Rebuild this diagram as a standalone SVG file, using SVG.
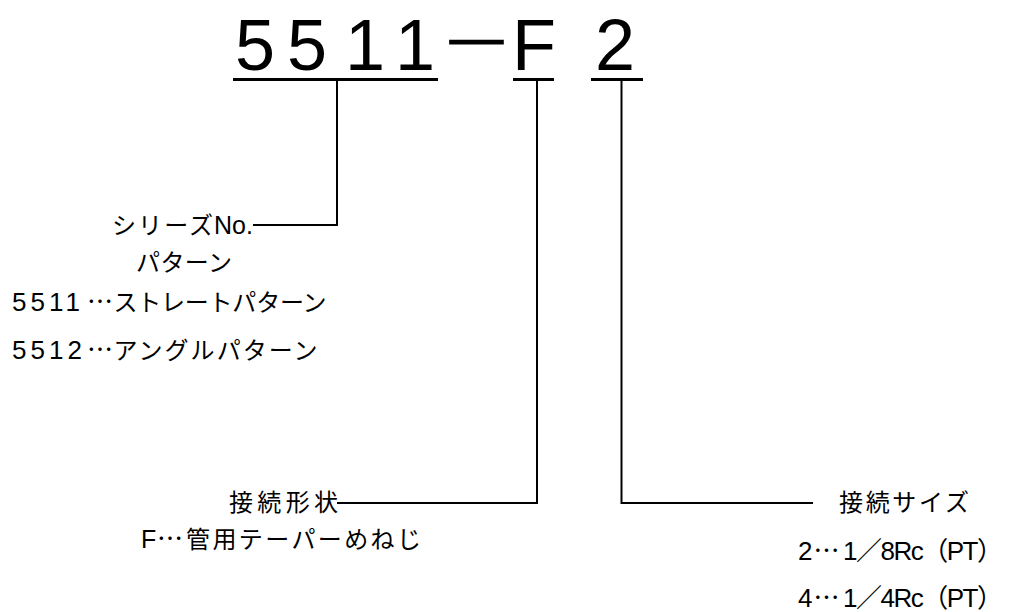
<svg xmlns="http://www.w3.org/2000/svg" width="1011" height="612" viewBox="0 0 1011 612" xml:lang="ja">
<style>
.t{font-family:"Liberation Sans","Noto Sans CJK JP",sans-serif;font-size:26px;fill:#000}
.big{font-family:"Liberation Sans","Noto Sans CJK JP",sans-serif;font-size:72px;fill:#000}
.cj{font-family:"Noto Sans CJK JP",sans-serif}
.el{font-family:"Noto Sans CJK JP",sans-serif;font-size:26px;fill:#000}
.jp{font-family:"Noto Sans CJK JP",sans-serif;font-size:24px;fill:#000}
.dash{font-family:"Noto Sans CJK JP",sans-serif;font-size:52px;fill:#000;stroke:#000;stroke-width:1.2}
.ul{stroke:#000;stroke-width:3;fill:none}
.ln{stroke:#000;stroke-width:2;fill:none}
</style>
<rect width="1011" height="612" fill="#fff"/>
<g id="code">
<text class="big" y="70"><tspan x="235 287 345 395">5511</tspan></text>
<text class="dash" x="440" y="62" textLength="73" lengthAdjust="spacingAndGlyphs">－</text>
<text class="big" y="70"><tspan x="512">F</tspan><tspan x="595">2</tspan></text>
<line class="ul" x1="233" y1="79.5" x2="438" y2="79.5"/>
<line class="ul" x1="513" y1="79.5" x2="554" y2="79.5"/>
<line class="ul" x1="591" y1="79.5" x2="643" y2="79.5"/>
</g>
<g id="connectors">
<polyline class="ln" points="337,80 337,225 253,225"/>
<polyline class="ln" points="537,80 537,503 337,503"/>
<polyline class="ln" points="621.5,80 621.5,503 813,503"/>
</g>
<g id="series">
<text class="jp" x="112" y="234" textLength="101" lengthAdjust="spacing">シリーズ</text>
<text class="t" x="214" y="234" style="font-size:25px">No.</text>
<text class="jp" x="136" y="271" textLength="96" lengthAdjust="spacing">パターン</text>
<text class="t" x="12" y="311" style="letter-spacing:4px">5511</text>
<text class="el" x="87" y="311">…</text>
<text class="jp" x="113.5" y="311" textLength="213" lengthAdjust="spacing">ストレートパターン</text>
<text class="t" x="12" y="359" style="letter-spacing:4px">5512</text>
<text class="el" x="87" y="359">…</text>
<text class="jp" x="113.5" y="359" textLength="204" lengthAdjust="spacing">アングルパターン</text>
</g>
<g id="shape">
<text class="jp" x="229" y="511" textLength="109" lengthAdjust="spacing">接続形状</text>
<text class="t" x="141" y="548" style="font-size:25px">F</text>
<text class="el" x="157" y="548">…</text>
<text class="jp" x="186" y="548" textLength="235" lengthAdjust="spacing">管用テーパーめねじ</text>
</g>
<g id="size">
<text class="jp" x="839" y="511" textLength="130" lengthAdjust="spacing">接続サイズ</text>
<text class="t" x="798" y="560">2</text>
<text class="el" x="813.5" y="560">…</text>
<text class="t" x="843" y="560" textLength="160" lengthAdjust="spacing">1<tspan class="cj">／</tspan>8Rc<tspan class="cj">（</tspan>PT<tspan class="cj">）</tspan></text>
<text class="t" x="798" y="607">4</text>
<text class="el" x="813.5" y="607">…</text>
<text class="t" x="843" y="607" textLength="160" lengthAdjust="spacing">1<tspan class="cj">／</tspan>4Rc<tspan class="cj">（</tspan>PT<tspan class="cj">）</tspan></text>
</g>
</svg>
